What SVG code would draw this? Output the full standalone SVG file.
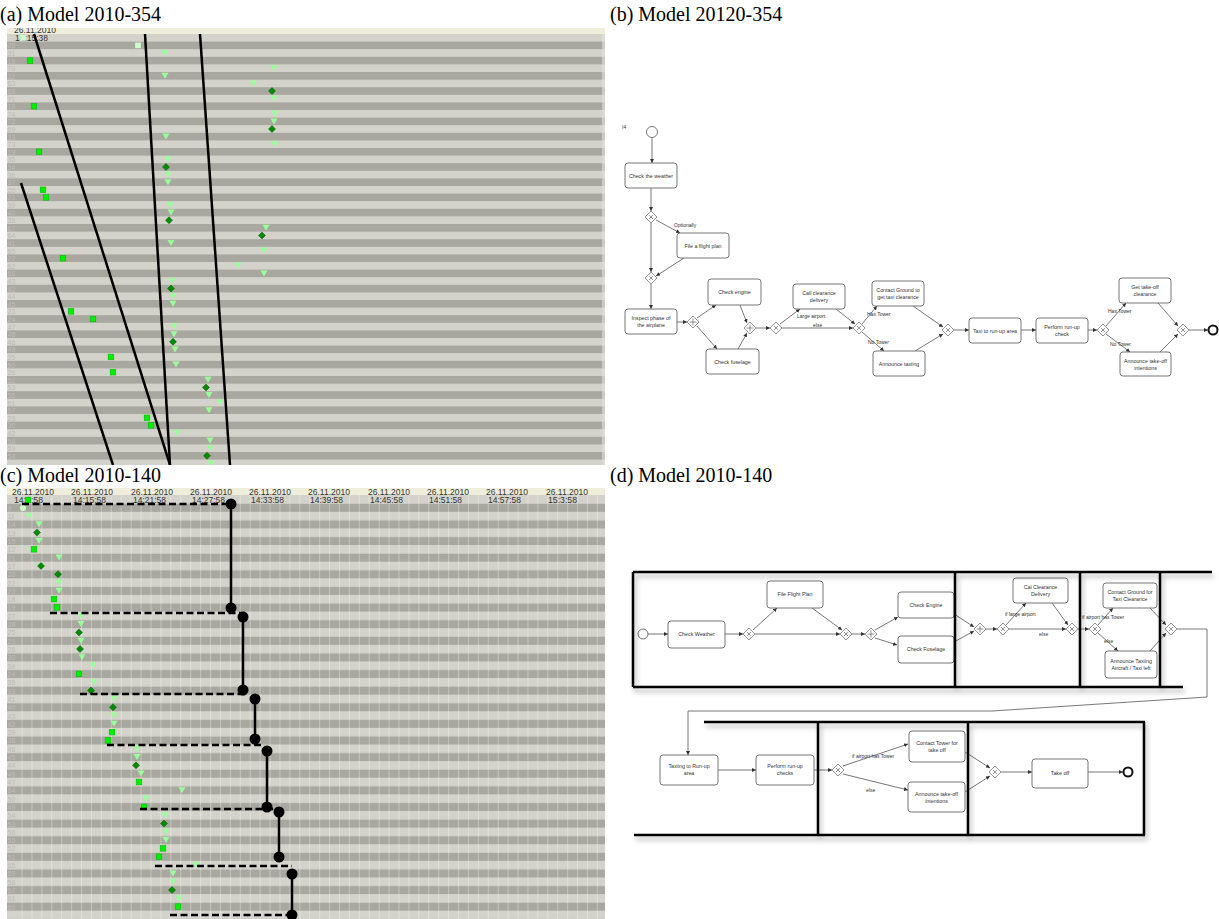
<svg xmlns="http://www.w3.org/2000/svg" xmlns:xlink="http://www.w3.org/1999/xlink" width="1219" height="919" viewBox="0 0 1219 919">
<style>
.title{font-family:"Liberation Serif","Times New Roman",serif;font-size:20px;fill:#000}
.hd{font-family:"Liberation Sans",Arial,sans-serif;font-size:8.5px;fill:#333}
.rl{font-family:"Liberation Sans",Arial,sans-serif;font-size:7px;fill:#bdbcb4}
.bx{fill:#fff;stroke:#666;stroke-width:0.9}
.bt{font-family:"Liberation Sans",Arial,sans-serif;font-size:5.3px;fill:#333;text-anchor:middle}
.lb{font-family:"Liberation Sans",Arial,sans-serif;font-size:5px;fill:#333}
.fl{stroke:#555;stroke-width:0.8;fill:none;marker-end:url(#ah)}
.gw{fill:#fff;stroke:#777;stroke-width:0.8}
.gm{stroke:#666;stroke-width:0.7;fill:none}
.ev{fill:#fff;stroke:#666;stroke-width:0.9}
.evE{fill:#fff;stroke:#111;stroke-width:2}
.bl{stroke:#000;stroke-width:2.5;fill:none}
.dl{stroke:#000;stroke-width:2.5;fill:none;stroke-dasharray:7 3.5}
.fr{stroke:#000;stroke-width:2.5;fill:none}
</style>
<defs>
<marker id="ah" viewBox="0 0 6 6" refX="6" refY="3" markerWidth="4" markerHeight="4" orient="auto" markerUnits="userSpaceOnUse"><path d="M0,0L6,3L0,6Z" fill="#333"/></marker>
<pattern id="stA" patternUnits="userSpaceOnUse" x="0" y="34" width="10" height="15.2"><rect width="10" height="7.6" fill="#d4d3cb"/><rect y="7.6" width="10" height="7.6" fill="#a9a8a0"/></pattern>
<pattern id="stC" patternUnits="userSpaceOnUse" x="0" y="495.2" width="10" height="16.62"><rect width="10" height="8.31" fill="#d4d3cb"/><rect y="8.31" width="10" height="8.31" fill="#a9a8a0"/></pattern>
<pattern id="vC" patternUnits="userSpaceOnUse" x="1.7" y="0" width="9.92" height="20"><rect width="1" height="20" fill="#fff" fill-opacity="0.3"/></pattern>
<path id="tri" d="M-3.5,-3H3.5L0,3Z" fill="#99ff99"/>
<path id="dia" d="M0,-3.5L3.5,0L0,3.5L-3.5,0Z" fill="#008a00" stroke="#006000" stroke-width="0.5"/>
<rect id="sq" x="-2.8" y="-2.8" width="5.6" height="5.6" fill="#00ee00" stroke="#00c000" stroke-width="0.6"/>
<rect id="psq" x="-2.8" y="-2.8" width="5.6" height="5.6" fill="#ccffcc"/>
<g id="gx"><path d="M0,-6L6,0L0,6L-6,0Z" class="gw"/><path d="M-2,-2L2,2M2,-2L-2,2" class="gm"/></g>
<g id="gp"><path d="M0,-6L6,0L0,6L-6,0Z" class="gw"/><path d="M0,-3.5V3.5M-3.5,0H3.5" class="gm"/></g>
<clipPath id="cpA"><rect x="7" y="28" width="598" height="437"/></clipPath>
<clipPath id="cpC"><rect x="7" y="488" width="598" height="431"/></clipPath>
<filter id="sh" x="-5%" y="-20%" width="110%" height="150%"><feDropShadow dx="2" dy="4" stdDeviation="2.5" flood-color="#000" flood-opacity="0.3"/></filter>
</defs>
<rect width="1219" height="919" fill="#fff"/>

<text class="title" x="0" y="21">(a) Model 2010-354</text>
<text class="title" x="610" y="21">(b) Model 20120-354</text>
<text class="title" x="0" y="482">(c) Model 2010-140</text>
<text class="title" x="610" y="482">(d) Model 2010-140</text>

<!-- Panel (a) -->
<g id="panelA" clip-path="url(#cpA)">
<rect x="7" y="28" width="598" height="6" fill="#efeedb"/>
<rect x="7" y="34" width="598" height="431" fill="url(#stA)"/>
<rect x="602" y="34" width="3" height="431" fill="#e2e1da" fill-opacity="0.6"/>
<g class="rl">
<text x="7.5" y="48.4">28</text><text x="7.5" y="56">31</text><text x="7.5" y="63.6">16</text><text x="7.5" y="71.2">70</text><text x="7.5" y="78.8">32</text><text x="7.5" y="86.4">63</text><text x="7.5" y="94">68</text><text x="7.5" y="101.6">71</text><text x="7.5" y="109.2">18</text><text x="7.5" y="116.8">74</text><text x="7.5" y="124.4">72</text><text x="7.5" y="132">69</text><text x="7.5" y="139.6">33</text><text x="7.5" y="147.2">73</text><text x="7.5" y="154.8">19</text><text x="7.5" y="162.4">35</text><text x="7.5" y="170">34</text><text x="7.5" y="177.6">36</text><text x="7.5" y="185.2">37</text><text x="7.5" y="192.8">20</text><text x="7.5" y="200.4">21</text><text x="7.5" y="208">39</text><text x="7.5" y="215.6">40</text><text x="7.5" y="223.2">38</text><text x="7.5" y="230.8">67</text><text x="7.5" y="238.4">64</text><text x="7.5" y="246">41</text><text x="7.5" y="253.6">65</text><text x="7.5" y="261.2">22</text><text x="7.5" y="268.8">62</text><text x="7.5" y="276.4">66</text><text x="7.5" y="284">43</text><text x="7.5" y="291.6">42</text><text x="7.5" y="299.2">44</text><text x="7.5" y="306.8">45</text><text x="7.5" y="314.4">23</text><text x="7.5" y="322">24</text><text x="7.5" y="329.6">47</text><text x="7.5" y="337.2">48</text><text x="7.5" y="344.8">46</text><text x="7.5" y="352.4">49</text><text x="7.5" y="360">25</text><text x="7.5" y="367.6">50</text><text x="7.5" y="375.2">26</text><text x="7.5" y="382.8">52</text><text x="7.5" y="390.4">53</text><text x="7.5" y="398">56</text><text x="7.5" y="405.6">61</text><text x="7.5" y="413.2">57</text><text x="7.5" y="420.8">29</text><text x="7.5" y="428.4">30</text><text x="7.5" y="436">42</text><text x="7.5" y="443.6">58</text><text x="7.5" y="451.2">59</text><text x="7.5" y="458.8">54</text>
</g>
<text class="hd" x="14" y="33" textLength="42" lengthAdjust="spacingAndGlyphs">26.11.2010</text>
<text class="hd" x="15" y="40.8" textLength="33" lengthAdjust="spacingAndGlyphs">14:15:38</text>
<use href="#psq" x="23" y="37.8"/>
<use href="#psq" x="138" y="45.4"/>
<use href="#tri" x="165" y="53"/>
<use href="#sq" x="30" y="60.6"/>
<use href="#tri" x="274" y="68.2"/>
<use href="#tri" x="165" y="75.8"/>
<use href="#tri" x="253" y="83.4"/>
<use href="#dia" x="272" y="91"/>
<use href="#tri" x="274" y="98.6"/>
<use href="#sq" x="34" y="106.2"/>
<use href="#tri" x="275" y="113.8"/>
<use href="#tri" x="274" y="121.4"/>
<use href="#dia" x="272" y="129"/>
<use href="#tri" x="166" y="136.6"/>
<use href="#tri" x="275" y="144.2"/>
<use href="#sq" x="39" y="151.8"/>
<use href="#tri" x="168" y="159.4"/>
<use href="#dia" x="166" y="167"/>
<use href="#tri" x="168" y="174.6"/>
<use href="#tri" x="168" y="182.2"/>
<use href="#sq" x="43" y="189.8"/>
<use href="#sq" x="46" y="197.4"/>
<use href="#tri" x="170" y="205"/>
<use href="#tri" x="171" y="212.6"/>
<use href="#dia" x="169" y="220.2"/>
<use href="#tri" x="266" y="227.8"/>
<use href="#dia" x="262" y="235.4"/>
<use href="#tri" x="171" y="243"/>
<use href="#tri" x="264" y="250.6"/>
<use href="#sq" x="63" y="258.2"/>
<use href="#tri" x="238" y="265.8"/>
<use href="#tri" x="264" y="273.4"/>
<use href="#tri" x="172" y="281"/>
<use href="#dia" x="171" y="288.6"/>
<use href="#tri" x="173" y="296.2"/>
<use href="#tri" x="173" y="303.8"/>
<use href="#sq" x="71" y="311.4"/>
<use href="#sq" x="93" y="319"/>
<use href="#tri" x="174" y="326.6"/>
<use href="#tri" x="174" y="334.2"/>
<use href="#dia" x="173" y="341.8"/>
<use href="#tri" x="175" y="349.4"/>
<use href="#sq" x="111" y="357"/>
<use href="#tri" x="176" y="364.6"/>
<use href="#sq" x="113" y="372.2"/>
<use href="#tri" x="208" y="379.8"/>
<use href="#dia" x="206" y="387.4"/>
<use href="#tri" x="209" y="395"/>
<use href="#tri" x="220" y="402.6"/>
<use href="#tri" x="209" y="410.2"/>
<use href="#sq" x="147" y="417.8"/>
<use href="#sq" x="151" y="425.4"/>
<use href="#tri" x="177" y="433"/>
<use href="#tri" x="210" y="440.6"/>
<use href="#tri" x="210" y="448.2"/>
<use href="#dia" x="207" y="455.8"/>
<use href="#tri" x="211" y="463.4"/>
<g id="linesA">
<path class="bl" d="M34,34L170,465"/>
<path class="bl" d="M21,183L113,465"/>
<path class="bl" d="M145,34L170,465"/>
<path class="bl" d="M200,34L230,465"/>
</g>
</g>

<!-- Panel (c) -->
<g id="panelC" clip-path="url(#cpC)">
<rect x="7" y="488" width="598" height="7.5" fill="#efeedb"/>
<rect x="7" y="495.2" width="598" height="424" fill="url(#stC)"/>
<rect x="17" y="495.2" width="588" height="424" fill="url(#vC)"/>
<g class="hd">
<text x="12" y="494.5" textLength="42" lengthAdjust="spacingAndGlyphs">26.11.2010</text>
<text x="71" y="494.5" textLength="42" lengthAdjust="spacingAndGlyphs">26.11.2010</text>
<text x="131" y="494.5" textLength="42" lengthAdjust="spacingAndGlyphs">26.11.2010</text>
<text x="190" y="494.5" textLength="42" lengthAdjust="spacingAndGlyphs">26.11.2010</text>
<text x="249" y="494.5" textLength="42" lengthAdjust="spacingAndGlyphs">26.11.2010</text>
<text x="308" y="494.5" textLength="42" lengthAdjust="spacingAndGlyphs">26.11.2010</text>
<text x="368" y="494.5" textLength="42" lengthAdjust="spacingAndGlyphs">26.11.2010</text>
<text x="427" y="494.5" textLength="42" lengthAdjust="spacingAndGlyphs">26.11.2010</text>
<text x="486" y="494.5" textLength="42" lengthAdjust="spacingAndGlyphs">26.11.2010</text>
<text x="546" y="494.5" textLength="42" lengthAdjust="spacingAndGlyphs">26.11.2010</text>
<text x="605" y="494.5">2</text>
<text x="14" y="502.5" textLength="29" lengthAdjust="spacingAndGlyphs">14:9:58</text>
<text x="73" y="502.5" textLength="33" lengthAdjust="spacingAndGlyphs">14:15:58</text>
<text x="133" y="502.5" textLength="33" lengthAdjust="spacingAndGlyphs">14:21:58</text>
<text x="192" y="502.5" textLength="33" lengthAdjust="spacingAndGlyphs">14:27:58</text>
<text x="251" y="502.5" textLength="33" lengthAdjust="spacingAndGlyphs">14:33:58</text>
<text x="310" y="502.5" textLength="33" lengthAdjust="spacingAndGlyphs">14:39:58</text>
<text x="370" y="502.5" textLength="33" lengthAdjust="spacingAndGlyphs">14:45:58</text>
<text x="429" y="502.5" textLength="33" lengthAdjust="spacingAndGlyphs">14:51:58</text>
<text x="488" y="502.5" textLength="33" lengthAdjust="spacingAndGlyphs">14:57:58</text>
<text x="548" y="502.5" textLength="29" lengthAdjust="spacingAndGlyphs">15:3:58</text>
<text x="607" y="502.5">1</text>
</g>
<g class="rl">
<text x="7.5" y="510.7">9</text><text x="7.5" y="519">11</text><text x="7.5" y="527.3">14</text><text x="7.5" y="535.6">13</text><text x="7.5" y="543.9">15</text><text x="7.5" y="552.3">12</text><text x="7.5" y="560.6">21</text><text x="7.5" y="568.9">17</text><text x="7.5" y="577.2">20</text><text x="7.5" y="585.5">22</text><text x="7.5" y="593.8">23</text><text x="7.5" y="602.1">18</text><text x="7.5" y="610.4">19</text><text x="7.5" y="618.7">27</text><text x="7.5" y="627">28</text><text x="7.5" y="635.4">25</text><text x="7.5" y="643.7">29</text><text x="7.5" y="652">26</text><text x="7.5" y="660.3">30</text><text x="7.5" y="668.6">34</text><text x="7.5" y="676.9">24</text><text x="7.5" y="685.2">35</text><text x="7.5" y="693.5">33</text><text x="7.5" y="701.8">41</text><text x="7.5" y="710.2">40</text><text x="7.5" y="718.5">43</text><text x="7.5" y="726.8">42</text><text x="7.5" y="735.1">39</text><text x="7.5" y="743.4">38</text><text x="7.5" y="751.7">46</text><text x="7.5" y="760">45</text><text x="7.5" y="768.3">44</text><text x="7.5" y="776.6">48</text><text x="7.5" y="785">47</text><text x="7.5" y="793.3">64</text><text x="7.5" y="801.6">50</text><text x="7.5" y="809.9">49</text><text x="7.5" y="818.2">54</text><text x="7.5" y="826.5">53</text><text x="7.5" y="834.8">56</text><text x="7.5" y="843.1">55</text><text x="7.5" y="851.4">52</text><text x="7.5" y="859.7">51</text><text x="7.5" y="868">65</text><text x="7.5" y="876.4">59</text><text x="7.5" y="884.7">58</text><text x="7.5" y="893">57</text><text x="7.5" y="901.3">61</text><text x="7.5" y="909.6">60</text>
</g>
<use href="#sq" x="28" y="500"/>
<circle cx="23" cy="508" r="3" fill="#ccffcc"/>
<use href="#tri" x="29" y="516"/>
<use href="#tri" x="39" y="524.3"/>
<use href="#dia" x="37" y="532.6"/>
<use href="#tri" x="39" y="540.9"/>
<use href="#sq" x="34" y="549.3"/>
<use href="#tri" x="59" y="557.6"/>
<use href="#dia" x="41" y="565.9"/>
<use href="#dia" x="58" y="574.2"/>
<use href="#tri" x="59" y="582.5"/>
<use href="#tri" x="59" y="590.8"/>
<use href="#sq" x="54" y="599.1"/>
<use href="#sq" x="57" y="607.4"/>
<use href="#tri" x="81" y="615.7"/>
<use href="#tri" x="81" y="624"/>
<use href="#dia" x="79" y="632.4"/>
<use href="#tri" x="81" y="640.7"/>
<use href="#dia" x="80" y="649"/>
<use href="#tri" x="82" y="657.3"/>
<use href="#tri" x="93" y="665.6"/>
<use href="#sq" x="79" y="673.9"/>
<use href="#tri" x="94" y="682.2"/>
<use href="#dia" x="91" y="690.5"/>
<use href="#tri" x="114" y="698.8"/>
<use href="#dia" x="113" y="707.2"/>
<use href="#tri" x="114" y="715.5"/>
<use href="#tri" x="114" y="723.8"/>
<use href="#sq" x="112" y="732.1"/>
<use href="#sq" x="108" y="740.4"/>
<use href="#tri" x="137" y="748.7"/>
<use href="#tri" x="137" y="757"/>
<use href="#dia" x="136" y="765.3"/>
<use href="#tri" x="141" y="773.6"/>
<use href="#sq" x="139" y="782"/>
<use href="#tri" x="182" y="790.3"/>
<use href="#tri" x="146" y="798.6"/>
<use href="#sq" x="144" y="806.9"/>
<use href="#tri" x="165" y="815.2"/>
<use href="#dia" x="164" y="823.5"/>
<use href="#tri" x="166" y="831.8"/>
<use href="#tri" x="166" y="840.1"/>
<use href="#sq" x="163" y="848.4"/>
<use href="#sq" x="159" y="856.7"/>
<use href="#tri" x="196" y="865"/>
<use href="#tri" x="173" y="873.4"/>
<use href="#tri" x="173" y="881.7"/>
<use href="#dia" x="172" y="890"/>
<use href="#tri" x="179" y="898.3"/>
<use href="#sq" x="178" y="906.6"/>
<g id="linesC">
<path class="dl" d="M22,504H231"/>
<path class="dl" d="M50,613H245"/>
<path class="dl" d="M80,694H248"/>
<path class="dl" d="M107,745H263"/>
<path class="dl" d="M140,809H277"/>
<path class="dl" d="M155,866H292"/>
<path class="dl" d="M170,915H292"/>
<path class="bl" d="M231,504V608"/>
<path class="bl" d="M243,617V690"/>
<path class="bl" d="M255,699V739"/>
<path class="bl" d="M267,751V807"/>
<path class="bl" d="M279,812V857"/>
<path class="bl" d="M292,874V919"/>
<g fill="#000">
<circle cx="231" cy="504" r="5.5"/><circle cx="231" cy="608" r="5.5"/>
<circle cx="243" cy="617" r="5.5"/><circle cx="243" cy="690" r="5.5"/>
<circle cx="255" cy="699" r="5.5"/><circle cx="255" cy="739" r="5.5"/>
<circle cx="267" cy="751" r="5.5"/><circle cx="267" cy="807" r="5.5"/>
<circle cx="279" cy="812" r="5.5"/><circle cx="279" cy="857" r="5.5"/>
<circle cx="292" cy="874" r="5.5"/><circle cx="292" cy="915" r="5.5"/>
</g>
</g>
</g>

<!-- Panel (b) BPMN -->
<g id="panelB">
<text class="lb" x="622" y="129">I4</text>
<g id="connectorsB">
<path class="fl" d="M652,138V163"/>
<path class="fl" d="M651,188V211"/>
<path class="fl" d="M656,220L680,233"/>
<path class="fl" d="M651,223V272"/>
<path class="fl" d="M684,258L656,276"/>
<path class="fl" d="M651,284V309"/>
<path class="fl" d="M677,322H687"/>
<path class="fl" d="M697,318L716,305"/>
<path class="fl" d="M697,326L717,349"/>
<path class="fl" d="M740,305L747,323"/>
<path class="fl" d="M738,349L747,333"/>
<path class="fl" d="M756,328H770"/>
<path class="fl" d="M780,324L800,309"/>
<path class="fl" d="M782,328H853"/>
<path class="fl" d="M836,309L855,324"/>
<path class="fl" d="M862,324L877,306"/>
<path class="fl" d="M862,332L884,351"/>
<path class="fl" d="M913,306L943,327"/>
<path class="fl" d="M915,351L943,334"/>
<path class="fl" d="M954,330H969"/>
<path class="fl" d="M1021,330H1036"/>
<path class="fl" d="M1088,330H1097"/>
<path class="fl" d="M1106,326L1126,303"/>
<path class="fl" d="M1106,334L1130,352"/>
<path class="fl" d="M1158,303L1178,326"/>
<path class="fl" d="M1160,352L1178,334"/>
<path class="fl" d="M1189,330H1208"/>
<text class="lb" x="674" y="227">Optionally</text>
<text class="lb" x="797" y="318">Large airport</text>
<text class="lb" x="813" y="327">else</text>
<text class="lb" x="867" y="316">Has Tower</text>
<text class="lb" x="868" y="344">No Tower</text>
<text class="lb" x="1108" y="313">Has Tower</text>
<text class="lb" x="1110" y="346">No Tower</text>
</g>
<g id="b_start"><circle class="ev" cx="652" cy="132" r="5.5"/></g>
<g id="b_weather"><rect class="bx" x="625" y="163" width="52" height="25" rx="3"/><text class="bt" x="651" y="177.5">Check the weather</text></g>
<g id="b_g1"><use href="#gx" x="651" y="217"/></g>
<g id="b_file"><rect class="bx" x="677" y="233" width="52" height="25" rx="3"/><text class="bt" x="703" y="247.5">File a flight plan</text></g>
<g id="b_g2"><use href="#gx" x="651" y="278"/></g>
<g id="b_inspect"><rect class="bx" x="625" y="309" width="52" height="25" rx="3"/><text class="bt" x="651" y="320">Inspect phase of</text><text class="bt" x="651" y="327">the airplane</text></g>
<g id="b_p1"><use href="#gp" x="693" y="322"/></g>
<g id="b_engine"><rect class="bx" x="708" y="279" width="53" height="26" rx="3"/><text class="bt" x="734.5" y="294">Check engine</text></g>
<g id="b_fuselage"><rect class="bx" x="706" y="349" width="53" height="25" rx="3"/><text class="bt" x="732.5" y="363.5">Check fuselage</text></g>
<g id="b_p2"><use href="#gp" x="750" y="328"/></g>
<g id="b_g3"><use href="#gx" x="776" y="328"/></g>
<g id="b_call"><rect class="bx" x="793" y="284" width="52" height="25" rx="3"/><text class="bt" x="819" y="295">Call clearance</text><text class="bt" x="819" y="302">delivery</text></g>
<g id="b_g4"><use href="#gx" x="859" y="328"/></g>
<g id="b_contact"><rect class="bx" x="872" y="281" width="52" height="25" rx="3"/><text class="bt" x="898" y="292">Contact Ground to</text><text class="bt" x="898" y="299">get taxi clearance</text></g>
<g id="b_announce"><rect class="bx" x="873" y="351" width="52" height="25" rx="3"/><text class="bt" x="899" y="365.5">Announce taxiing</text></g>
<g id="b_g5"><use href="#gx" x="948" y="330"/></g>
<g id="b_taxi"><rect class="bx" x="969" y="318" width="52" height="25" rx="3"/><text class="bt" x="995" y="332.5">Taxi to run-up area</text></g>
<g id="b_runup"><rect class="bx" x="1036" y="318" width="52" height="25" rx="3"/><text class="bt" x="1062" y="329">Perform run-up</text><text class="bt" x="1062" y="336">check</text></g>
<g id="b_g6"><use href="#gx" x="1103" y="330"/></g>
<g id="b_gettakeoff"><rect class="bx" x="1119" y="278" width="52" height="25" rx="3"/><text class="bt" x="1145" y="289">Get take-off</text><text class="bt" x="1145" y="296">clearance</text></g>
<g id="b_announcetakeoff"><rect class="bx" x="1120" y="352" width="51" height="24" rx="3"/><text class="bt" x="1145.5" y="362.5">Announce take-off</text><text class="bt" x="1145.5" y="369.5">intentions</text></g>
<g id="b_g7"><use href="#gx" x="1183" y="330"/></g>
<g id="b_end"><circle class="evE" cx="1213" cy="330" r="4.5"/></g>
</g>

<!-- Panel (d) -->
<g id="panelD">
<g id="connectorsD">
<path class="fl" d="M648,634H668"/>
<path class="fl" d="M725,634H743"/>
<path class="fl" d="M753,630L777,608"/>
<path class="fl" d="M755,634H840"/>
<path class="fl" d="M812,608L842,630"/>
<path class="fl" d="M852,634H865"/>
<path class="fl" d="M875,630L898,617"/>
<path class="fl" d="M875,638L897,645"/>
<path class="fl" d="M954,614L974,627"/>
<path class="fl" d="M954,642L974,631"/>
<path class="fl" d="M986,629H997"/>
<path class="fl" d="M1006,625L1026,603"/>
<path class="fl" d="M1009,629H1066"/>
<path class="fl" d="M1052,603L1068,625"/>
<path class="fl" d="M1078,629H1089"/>
<path class="fl" d="M1098,625L1113,608"/>
<path class="fl" d="M1098,633L1118,651"/>
<path class="fl" d="M1150,608L1166,625"/>
<path class="fl" d="M1150,651L1166,633"/>
<path class="fl" d="M1177,629H1207V697L992,711H688V755" stroke="#888"/>
<path class="fl" d="M718,770H756"/>
<path class="fl" d="M814,770H832"/>
<path class="fl" d="M843,766L908,744"/>
<path class="fl" d="M843,774L908,790"/>
<path class="fl" d="M965,752L990,768"/>
<path class="fl" d="M965,792L990,776"/>
<path class="fl" d="M1001,772H1032"/>
<path class="fl" d="M1088,772H1123"/>
<text class="lb" x="1005" y="616">if large airport</text>
<text class="lb" x="1039" y="636">else</text>
<text class="lb" x="1082" y="619">if airport has Tower</text>
<text class="lb" x="1104" y="643">else</text>
<text class="lb" x="852" y="758">if airport has Tower</text>
<text class="lb" x="866" y="792">else</text>
</g>
<g id="d_start"><circle class="ev" cx="643" cy="634" r="5"/></g>
<g id="d_weather"><rect class="bx" x="668" y="621" width="57" height="27" rx="3"/><text class="bt" x="696.5" y="636">Check Weather</text></g>
<g id="d_g1"><use href="#gx" x="749" y="634"/></g>
<g id="d_file"><rect class="bx" x="767" y="581" width="56" height="27" rx="3"/><text class="bt" x="795" y="596">File Flight Plan</text></g>
<g id="d_g2"><use href="#gx" x="846" y="634"/></g>
<g id="d_p1"><use href="#gp" x="871" y="634"/></g>
<g id="d_engine"><rect class="bx" x="898" y="592" width="56" height="26" rx="3"/><text class="bt" x="926" y="606.5">Check Engine</text></g>
<g id="d_fuselage"><rect class="bx" x="898" y="636" width="56" height="27" rx="3"/><text class="bt" x="926" y="651">Check Fuselage</text></g>
<g id="d_p2"><use href="#gp" x="980" y="629"/></g>
<g id="d_g3"><use href="#gx" x="1003" y="629"/></g>
<g id="d_call"><rect class="bx" x="1013" y="578" width="55" height="25" rx="3"/><text class="bt" x="1040.5" y="589">Cal Clearance</text><text class="bt" x="1040.5" y="596">Delivery</text></g>
<g id="d_g4"><use href="#gx" x="1072" y="629"/></g>
<g id="d_g5"><use href="#gx" x="1095" y="629"/></g>
<g id="d_contact"><rect class="bx" x="1103" y="583" width="54" height="25" rx="3"/><text class="bt" x="1130" y="594">Contact Ground for</text><text class="bt" x="1130" y="601">Taxi Clearance</text></g>
<g id="d_announce"><rect class="bx" x="1105" y="651" width="52" height="27" rx="3"/><text class="bt" x="1131" y="663">Announce Taxiing</text><text class="bt" x="1131" y="670">Aircraft / Taxi left</text></g>
<g id="d_g6"><use href="#gx" x="1171" y="629"/></g>
<g id="d_taxiing"><rect class="bx" x="660" y="755" width="58" height="30" rx="3"/><text class="bt" x="689" y="768">Taxiing to Run-up</text><text class="bt" x="689" y="775">area</text></g>
<g id="d_runup"><rect class="bx" x="756" y="755" width="58" height="30" rx="3"/><text class="bt" x="785" y="768">Perform run-up</text><text class="bt" x="785" y="775">checks</text></g>
<g id="d_g7"><use href="#gx" x="838" y="770"/></g>
<g id="d_tower"><rect class="bx" x="909" y="731" width="56" height="31" rx="3"/><text class="bt" x="937" y="745">Contact Tower for</text><text class="bt" x="937" y="752">take off</text></g>
<g id="d_intent"><rect class="bx" x="908" y="782" width="57" height="30" rx="3"/><text class="bt" x="936.5" y="795.5">Announce take-off</text><text class="bt" x="936.5" y="802.5">intentions</text></g>
<g id="d_g8"><use href="#gx" x="995" y="772"/></g>
<g id="d_takeoff"><rect class="bx" x="1032" y="759" width="56" height="29" rx="3"/><text class="bt" x="1060" y="775">Take off</text></g>
<g id="d_end"><circle class="evE" cx="1128" cy="772" r="4.5"/></g>
<g id="d_frames" filter="url(#sh)">
<path class="fr" d="M633,572H1212M633,687H1183M633,572V687M955,572V687M1080,572V687M1160,572V687"/>
<path class="fr" d="M704,722H1145M634,835H1145M818,722V835M968,722V835M1144,722V835"/>
</g>
</g>
</svg>
